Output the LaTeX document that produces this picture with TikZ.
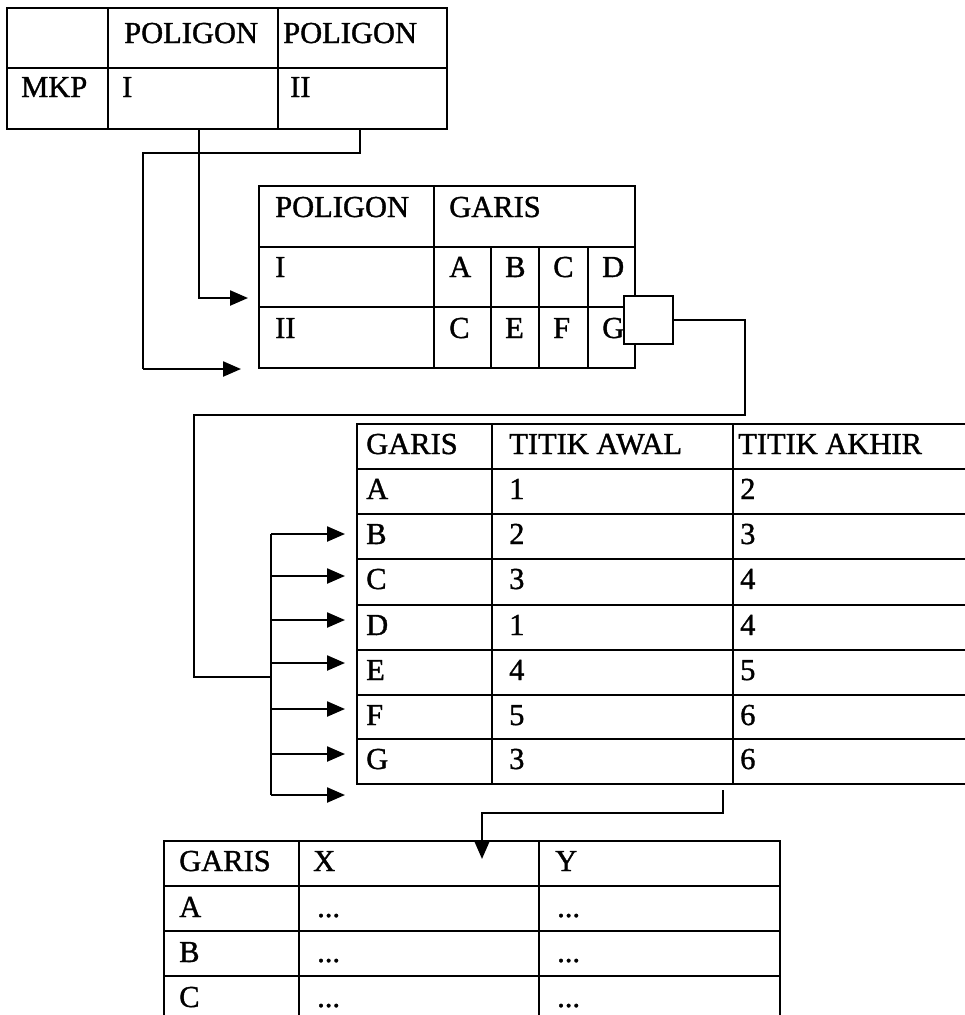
\documentclass[tikz,border=0pt]{standalone}
\usepackage{fontspec}
\setmainfont{Liberation Serif}[FakeBold=1.2]
\usetikzlibrary{arrows.meta}

\begin{document}
\begin{tikzpicture}[x=1pt, y=-1pt,
    garis/.style={line width=2.3pt},
    isi/.style={anchor=base west, inner sep=0pt, font=\fontsize{30.5}{36}\selectfont},
    panah/.style={line width=2.3pt, -{Triangle[length=18pt, width=15pt]}}]
    \useasboundingbox (0,0) rectangle (965,1015);

    % tabel MKP
    \draw[garis] (7,8) rectangle (447,129) (7,68) -- (447,68)
        (108,8) -- (108,129) (278,8) -- (278,129);
    \node[isi] (mkpA) at (124,43) {POLIGON};
    \node[isi] (mkpB) at (283,43) {POLIGON};
    \node[isi] (mkp) at (21,97) {MKP};
    \node[isi] (mkpI) at (122,97) {I};
    \node[isi] (mkpII) at (290,97) {II};

    % tabel poligon
    \draw[garis] (259,186) rectangle (635,368) (259,247) -- (635,247)
        (259,307) -- (635,307) (434,186) -- (434,368);
    \foreach \x in {491,539,588} \draw[garis] (\x,247) -- (\x,368);
    \node[isi] (polH) at (275,217) {POLIGON};
    \node[isi] (polG) at (449,217) {GARIS};
    \node[isi] (polI) at (275,277) {I};
    \node[isi] (polII) at (275,338) {II};
    \foreach \g/\x [count=\i] in {A/449,B/505,C/553,D/602}
        \node[isi] (p1\i) at (\x,277) {\g};
    \foreach \g/\x [count=\i] in {C/449,E/505,F/553,G/602}
        \node[isi] (p2\i) at (\x,338) {\g};
    \node[draw, fill=white, line width=2.3pt, anchor=north west,
        minimum width=49pt, minimum height=48pt] (kotak) at (623,295) {};

    % tabel garis
    \draw[garis] (357,424) rectangle (990,784) (492,424) -- (492,784)
        (733,424) -- (733,784);
    \foreach \y in {469,514,559,605,650,695,739} \draw[garis] (357,\y) -- (990,\y);
    \node[isi] (grsH) at (366,454) {GARIS};
    \node[isi] (grsA) at (509,454) {TITIK AWAL};
    \node[isi] (grsB) at (738,454) {TITIK AKHIR};
    \foreach \g/\a/\b/\y [count=\i] in {A/1/2/499,B/2/3/544,C/3/4/589,D/1/4/635,
        E/4/5/680,F/5/6/725,G/3/6/769}{
        \node[isi] (g\i) at (366,\y) {\g};
        \node[isi] (a\i) at (509,\y) {\a};
        \node[isi] (b\i) at (740,\y) {\b};
    }

    % tabel koordinat
    \draw[garis] (164,841) rectangle (780,1030) (164,886) -- (780,886)
        (164,931) -- (780,931) (164,976) -- (780,976)
        (299,841) -- (299,1030) (539,841) -- (539,1030);
    \node[isi] (kH) at (179,871) {GARIS};
    \node[isi] (kX) at (313,871) {X};
    \node[isi] (kY) at (555,871) {Y};
    \foreach \g/\y [count=\i] in {A/917,B/962,C/1007}{
        \node[isi] (k\i) at (179,\y) {\g};
        \node[isi] (x\i) at (317,\y) {...};
        \node[isi] (y\i) at (557,\y) {...};
    }

    % penghubung
    \coordinate (d1) at (199,129);
    \coordinate (e1) at (248,298);
    \coordinate (d2) at (360,129);
    \coordinate (e2) at (241,369);
    \coordinate (belok) at (745,415);
    \coordinate (kiri) at (194,677);
    \coordinate (busA) at (271,534);
    \coordinate (busB) at (271,795);
    \coordinate (d4) at (723,790);
    \coordinate (e4) at (482,859);

    \draw[panah] (d1) |- (e1);
    \draw[garis] (d2) -- ++(0,24) -| (143,369);
    \draw[panah] (143,369) -- (e2);
    \draw[garis] (kotak.east) -| (belok) -| (kiri) -- (busA |- kiri);
    \draw[garis] (busA) -- (busB);
    \foreach \y in {534,576,620,663,709,754,795}
        \draw[panah] (busA |- 0,\y) -- (345,\y);
    \draw[panah] (d4) |- (600,813) -| (e4);
\end{tikzpicture}
\end{document}
